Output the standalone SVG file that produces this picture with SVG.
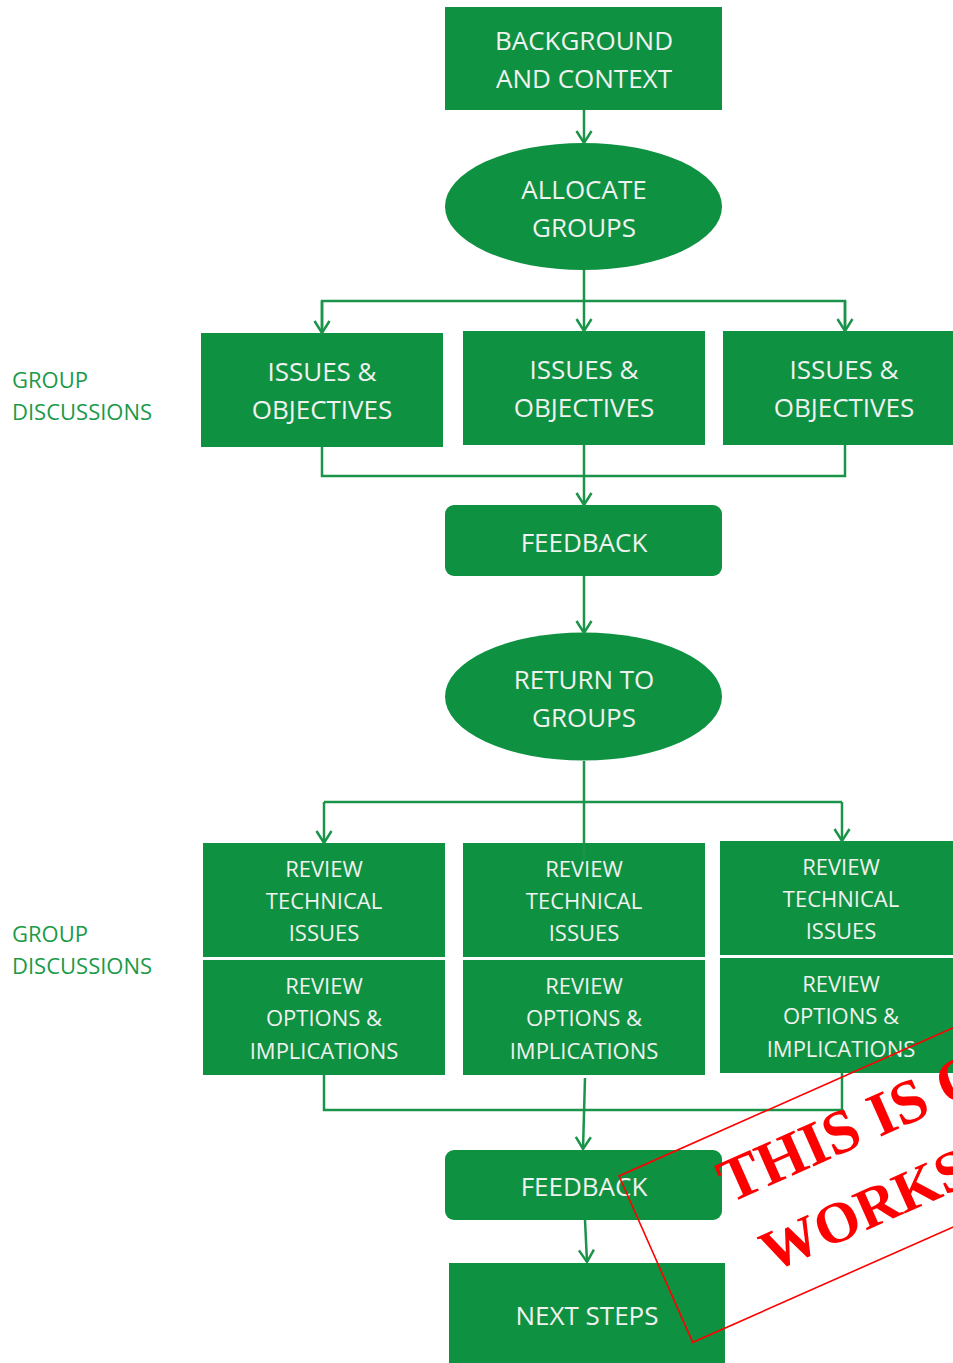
<svg xmlns="http://www.w3.org/2000/svg" width="953" height="1363" viewBox="0 0 953 1363">
  <style>
    .box { fill: #0f9142; }
    .lbl { font-family: "Open Sans", "Liberation Sans", sans-serif; fill: #f0f2ef; text-anchor: middle; dominant-baseline: central; }
    .big { font-size: 26px; }
    .mid { font-size: 22px; }
    .side { font-family: "Open Sans", "Liberation Sans", sans-serif; font-size: 22px; fill: #1a9a48; dominant-baseline: central; }
    .wire { fill: none; stroke: #1a9448; stroke-width: 2.5; }
    .stamp { font-family: "Liberation Serif", "DejaVu Serif", serif; font-weight: bold; fill: #ff0000; }
  </style>
  <defs>
    <marker id="vhead" markerUnits="userSpaceOnUse" markerWidth="16" markerHeight="18" refX="13" refY="8" orient="auto" overflow="visible">
      <path d="M1,0.5 L13,8 L1,15.5" fill="none" stroke="#1a9448" stroke-width="2.5"/>
    </marker>
  </defs>

  <rect width="953" height="1363" fill="#ffffff"/>

  <!-- side labels -->
  <g id="label-group-1">
    <text class="side" x="12" y="379">GROUP</text>
    <text class="side" x="12" y="411">DISCUSSIONS</text>
  </g>
  <g id="label-group-2">
    <text class="side" x="12" y="933">GROUP</text>
    <text class="side" x="12" y="965">DISCUSSIONS</text>
  </g>

  <!-- nodes -->
  <g id="background">
    <rect class="box" x="445" y="7" width="277" height="103"/>
    <text class="lbl big" x="584" y="40">BACKGROUND</text>
    <text class="lbl big" x="584" y="78">AND CONTEXT</text>
  </g>
  <g id="allocate">
    <ellipse class="box" cx="583.5" cy="206.5" rx="138.5" ry="63.5"/>
    <text class="lbl big" x="584" y="189">ALLOCATE</text>
    <text class="lbl big" x="584" y="227">GROUPS</text>
  </g>
  <g id="issues-1">
    <rect class="box" x="201" y="333" width="242" height="114"/>
    <text class="lbl big" x="322" y="371">ISSUES &amp;</text>
    <text class="lbl big" x="322" y="409">OBJECTIVES</text>
  </g>
  <g id="issues-2">
    <rect class="box" x="463" y="331" width="242" height="114"/>
    <text class="lbl big" x="584" y="369">ISSUES &amp;</text>
    <text class="lbl big" x="584" y="407">OBJECTIVES</text>
  </g>
  <g id="issues-3">
    <rect class="box" x="723" y="331" width="260" height="114"/>
    <text class="lbl big" x="844" y="369">ISSUES &amp;</text>
    <text class="lbl big" x="844" y="407">OBJECTIVES</text>
  </g>
  <g id="feedback-1">
    <rect class="box" x="445" y="505" width="277" height="71" rx="9"/>
    <text class="lbl big" x="584" y="542">FEEDBACK</text>
  </g>
  <g id="return">
    <ellipse class="box" cx="583.5" cy="696.5" rx="138.5" ry="64"/>
    <text class="lbl big" x="584" y="679">RETURN TO</text>
    <text class="lbl big" x="584" y="717">GROUPS</text>
  </g>
  <g id="review-1">
    <rect class="box" x="203" y="843" width="242" height="114"/>
    <text class="lbl mid" x="324" y="868">REVIEW</text>
    <text class="lbl mid" x="324" y="900">TECHNICAL</text>
    <text class="lbl mid" x="324" y="932">ISSUES</text>
    <rect class="box" x="203" y="960" width="242" height="115"/>
    <text class="lbl mid" x="324" y="985">REVIEW</text>
    <text class="lbl mid" x="324" y="1017">OPTIONS &amp;</text>
    <text class="lbl mid" x="324" y="1050">IMPLICATIONS</text>
  </g>
  <g id="review-2">
    <rect class="box" x="463" y="843" width="242" height="114"/>
    <text class="lbl mid" x="584" y="868">REVIEW</text>
    <text class="lbl mid" x="584" y="900">TECHNICAL</text>
    <text class="lbl mid" x="584" y="932">ISSUES</text>
    <rect class="box" x="463" y="960" width="242" height="115"/>
    <text class="lbl mid" x="584" y="985">REVIEW</text>
    <text class="lbl mid" x="584" y="1017">OPTIONS &amp;</text>
    <text class="lbl mid" x="584" y="1050">IMPLICATIONS</text>
  </g>
  <g id="review-3">
    <rect class="box" x="720" y="841" width="263" height="114"/>
    <text class="lbl mid" x="841" y="866">REVIEW</text>
    <text class="lbl mid" x="841" y="898">TECHNICAL</text>
    <text class="lbl mid" x="841" y="930">ISSUES</text>
    <rect class="box" x="720" y="958" width="263" height="115"/>
    <text class="lbl mid" x="841" y="983">REVIEW</text>
    <text class="lbl mid" x="841" y="1015">OPTIONS &amp;</text>
    <text class="lbl mid" x="841" y="1048">IMPLICATIONS</text>
  </g>
  <g id="feedback-2">
    <rect class="box" x="445" y="1150" width="277" height="70" rx="9"/>
    <text class="lbl big" x="584" y="1186">FEEDBACK</text>
  </g>
  <g id="next-steps">
    <rect class="box" x="449" y="1263" width="276" height="110"/>
    <text class="lbl big" x="587" y="1315">NEXT STEPS</text>
  </g>

  <!-- connectors -->
  <g id="connectors" class="wire">
    <path d="M584,110 V143" marker-end="url(#vhead)"/>
    <path d="M584,270 V331" marker-end="url(#vhead)"/>
    <path d="M322,333 V301 H845 V331"/>
    <path d="M322,301 V333" marker-end="url(#vhead)"/>
    <path d="M845,301 V331" marker-end="url(#vhead)"/>
    <path d="M322,447 V476 H845 V445"/>
    <path d="M584,445 V505" marker-end="url(#vhead)"/>
    <path d="M584,576 V633" marker-end="url(#vhead)"/>
    <path d="M584,761 V862"/>
    <path d="M324,802 H842"/>
    <path d="M324,802 V843" marker-end="url(#vhead)"/>
    <path d="M842,802 V841" marker-end="url(#vhead)"/>
    <path d="M324,1075 V1110 H842 V1073"/>
    <path d="M585,1078 L583,1149" marker-end="url(#vhead)"/>
    <path d="M585,1220 L587,1262" marker-end="url(#vhead)"/>
  </g>

  <!-- rubber stamp overlay -->
  <g id="stamp" transform="translate(619,1176) rotate(-23.9)">
    <rect x="0" y="0" width="620" height="182" fill="none" stroke="#ff0000" stroke-width="1.6"/>
    <text class="stamp" x="90" y="70" font-size="62">THIS IS ONLY A</text>
    <text class="stamp" x="100" y="150" font-size="58">WORKSHOP</text>
  </g>
</svg>
